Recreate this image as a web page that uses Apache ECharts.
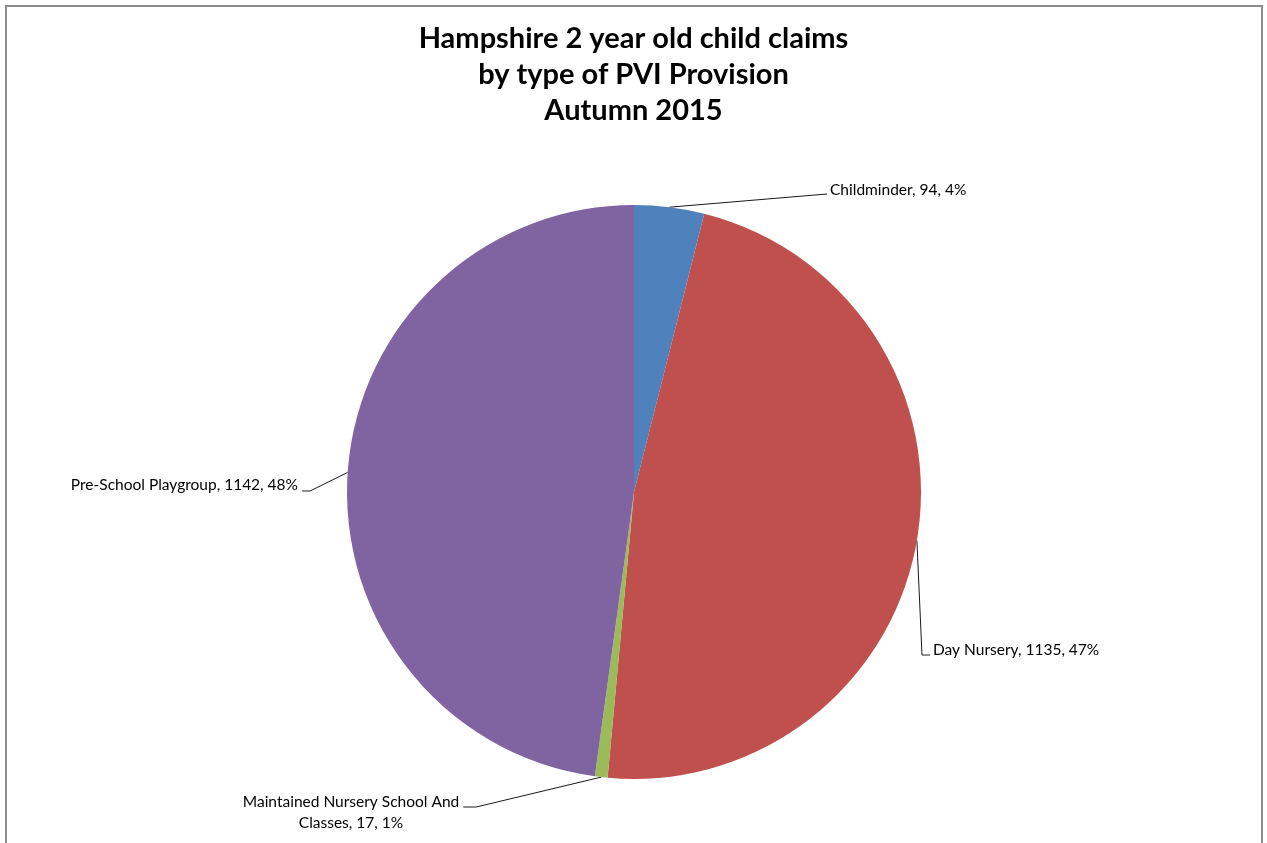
<!DOCTYPE html>
<html>
<head>
<meta charset="utf-8">
<title>Hampshire 2 year old child claims</title>
<script src="https://cdn.jsdelivr.net/npm/echarts@6/dist/echarts.min.js"></script>
<style>
  html, body { margin: 0; padding: 0; background: #fff; overflow: hidden; }
  #frame { position: absolute; left: 5px; top: 5px; width: 1254px; height: 900px; border: 2px solid #8c8c8c; }
  #chart { position: absolute; left: 0; top: 0; width: 1267px; height: 843px; }
</style>
</head>
<body>
<div id="frame"></div>
<div id="chart"></div>
<script>
// Chart data
const titleLines = ['Hampshire 2 year old child claims', 'by type of PVI Provision', 'Autumn 2015'];
const categories = ['Childminder', 'Day Nursery', 'Maintained Nursery School And Classes', 'Pre-School Playgroup'];
const claims = [94, 1135, 17, 1142];
const sliceColors = ['#4F81BD', '#C0504D', '#9BBB59', '#8064A2'];

// Where each data label sits and how its leader line meets it
const labelSpots = [
  { x: 830, y: 190, align: 'left',   dy: 4,  stub: 0 },
  { x: 933, y: 650, align: 'left',   dy: 5,  stub: 8 },
  { x: 351, y: 812, align: 'center', dy: -5, stub: 13 },
  { x: 298, y: 485, align: 'right',  dy: 6,  stub: 8 }
];

const pieCenter = [634, 492];
const pieRadius = 287;

function wrapWords(text, maxChars) {
  const words = text.split(' ');
  const lines = [];
  let cur = '';
  words.forEach(function (w) {
    const next = cur ? cur + ' ' + w : w;
    if (next.length > maxChars && cur) { lines.push(cur); cur = w; }
    else { cur = next; }
  });
  if (cur) lines.push(cur);
  return lines.join('\n');
}

// Point on the rim at the middle of a slice (fallback when no guide line is supplied)
function rimPoint(idx) {
  const total = claims.reduce(function (a, b) { return a + b; }, 0);
  let before = 0;
  for (let i = 0; i < idx; i++) before += claims[i];
  const mid = (before + claims[idx] / 2) / total * Math.PI * 2;
  return [pieCenter[0] + pieRadius * Math.sin(mid), pieCenter[1] - pieRadius * Math.cos(mid)];
}

const chart = echarts.init(document.getElementById('chart'), null, { renderer: 'canvas' });

chart.setOption({
  backgroundColor: 'transparent',
  animation: false,
  title: {
    text: titleLines.join('\n'),
    left: 'center',
    top: 21,
    padding: 0,
    textStyle: {
      fontFamily: 'Lato',
      fontWeight: 'bold',
      fontSize: 29,
      lineHeight: 35.75,
      color: '#000'
    }
  },
  series: [{
    type: 'pie',
    center: pieCenter,
    radius: pieRadius,
    startAngle: 90,
    clockwise: true,
    percentPrecision: 0,
    avoidLabelOverlap: false,
    emphasis: { disabled: true },
    itemStyle: { borderWidth: 0 },
    label: {
      show: true,
      position: 'outside',
      color: '#000',
      fontFamily: 'Lato',
      fontSize: 15.5,
      lineHeight: 21,
      formatter: function (p) {
        return wrapWords(p.name + ', ' + p.value + ', ' + p.percent + '%', 32);
      }
    },
    labelLine: {
      show: true,
      lineStyle: { color: '#1a1a1a', width: 1 }
    },
    labelLayout: function (p) {
      const s = labelSpots[p.dataIndex];
      const w = p.labelRect.width;
      let edgeX, dir;
      if (s.align === 'left') { edgeX = s.x - 3; dir = -1; }
      else if (s.align === 'right') { edgeX = s.x + 4; dir = 1; }
      else { edgeX = s.x + w / 2 + 4; dir = 1; }
      const ey = s.y + s.dy;
      const start = (p.labelLinePoints && p.labelLinePoints[0]) || rimPoint(p.dataIndex);
      return {
        x: s.x,
        y: s.y,
        align: s.align,
        verticalAlign: 'middle',
        labelLinePoints: [start, [edgeX + dir * s.stub, ey], [edgeX, ey]]
      };
    },
    data: categories.map(function (name, i) {
      return { name: name, value: claims[i], itemStyle: { color: sliceColors[i] } };
    })
  }]
});
</script>
</body>
</html>
